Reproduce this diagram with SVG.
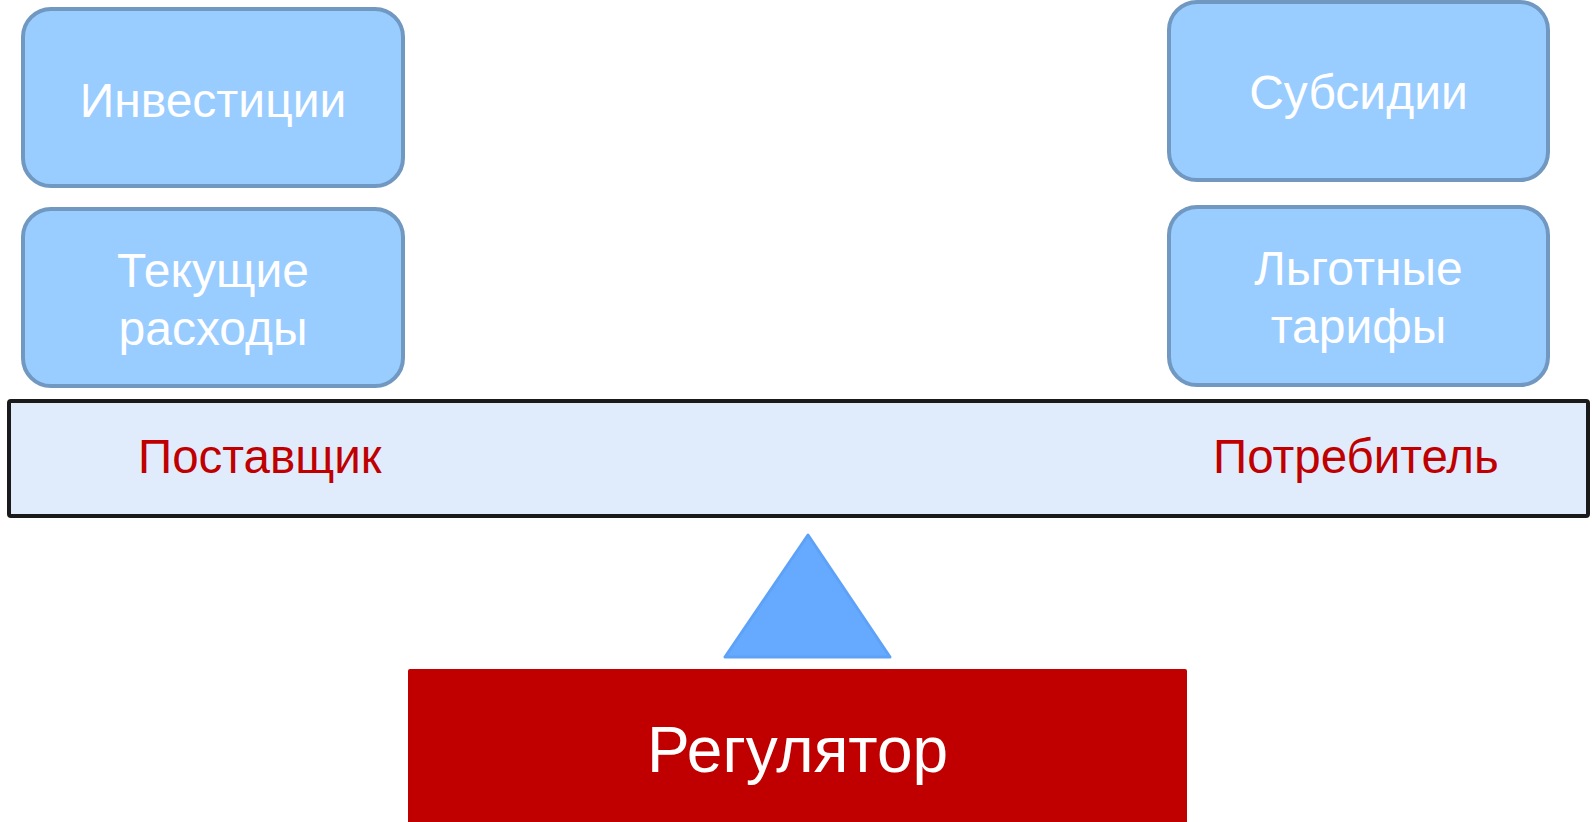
<svg xmlns="http://www.w3.org/2000/svg" width="1592" height="822" viewBox="0 0 1592 822">
<style>
.box{fill:#99ccff;stroke:#7098c0;stroke-width:4}
.wt{font-family:"Liberation Sans",Arial,sans-serif;font-size:48px;fill:#ffffff;text-anchor:middle}
.rt{font-family:"Liberation Sans",Arial,sans-serif;font-size:47.5px;fill:#c00000}
</style>
<rect width="1592" height="822" fill="#ffffff"/>
<g id="investicii">
<rect class="box" x="23" y="9" width="380" height="177" rx="28"/>
<text class="wt" x="213" y="117">Инвестиции</text>
</g>
<g id="tekushchie">
<rect class="box" x="23" y="209" width="380" height="177" rx="28"/>
<text class="wt" x="213" y="287">Текущие</text>
<text class="wt" x="213" y="345">расходы</text>
</g>
<g id="subsidii">
<rect class="box" x="1169" y="2" width="379" height="178" rx="28"/>
<text class="wt" x="1358.5" y="109">Субсидии</text>
</g>
<g id="lgotnye">
<rect class="box" x="1169" y="207" width="379" height="178" rx="28"/>
<text class="wt" x="1358.5" y="285">Льготные</text>
<text class="wt" x="1358.5" y="343">тарифы</text>
</g>
<g id="beam">
<rect x="9" y="401" width="1579" height="115" fill="#e0ecfc" stroke="#1a1a1a" stroke-width="4" rx="2"/>
<text class="rt" x="138" y="473">Поставщик</text>
<text class="rt" x="1213" y="473">Потребитель</text>
</g>
<g id="fulcrum">
<polygon points="808,535 725,657 890,657" fill="#66aaff" stroke="#5ea2f8" stroke-width="3" stroke-linejoin="round"/>
</g>
<g id="regulator">
<rect x="408" y="669" width="779" height="160" fill="#c00000" rx="2"/>
<text x="797.5" y="772" font-family="Liberation Sans, Arial, sans-serif" font-size="64" fill="#ffffff" text-anchor="middle">Регулятор</text>
</g>
<g id="connectors"></g>
</svg>
